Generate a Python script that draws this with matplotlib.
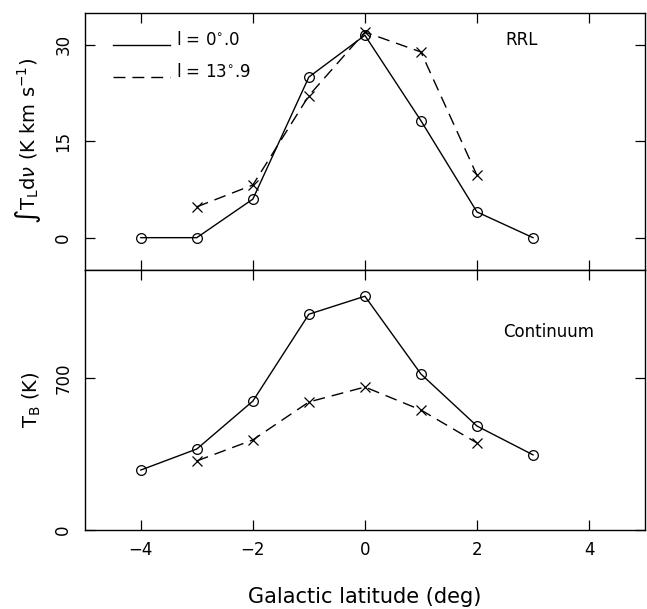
import matplotlib
matplotlib.use("Agg")
import matplotlib.pyplot as plt

plt.rcParams['font.family'] = ['DejaVu Sans']
plt.rcParams['mathtext.fontset'] = 'dejavusans'

lat_l0_rrl = [-4, -3, -2, -1, 0, 1, 2, 3]
rrl_l0 = [0, 0, 6, 25, 31.5, 18.2, 4, 0]
lat_l14_rrl = [-3, -2, -1, 0, 1, 2]
rrl_l14 = [4.8, 8.2, 22.1, 32, 28.9, 9.7]

lat_l0_cont = [-4, -3, -2, -1, 0, 1, 2, 3]
cont_l0 = [276, 373, 594, 995, 1078, 719, 479, 346]
lat_l14_cont = [-3, -2, -1, 0, 1, 2]
cont_l14 = [318, 415, 590, 659, 553, 401]

xticks = [-4, -2, 0, 2, 4]
legend_labels = [r'l = 0$^{\circ}$.0', r'l = 13$^{\circ}$.9']

DASH = (8.6, 5.0)

fig = plt.figure(figsize=(6.47, 6.09), dpi=100)
ax1 = fig.add_axes([0.131, 0.557, 0.866, 0.422])
ax2 = fig.add_axes([0.131, 0.130, 0.866, 0.427], sharex=ax1)

lw = 1.0
for ax in (ax1, ax2):
    for s in ax.spines.values():
        s.set_linewidth(1.0)
    ax.tick_params(direction='in', top=True, right=True, length=7, width=0.9,
                   labelsize=12)
    ax.tick_params(axis='y', pad=9)
    ax.set_xlim(-5, 5)
    ax.set_xticks(xticks)

ax1.plot(lat_l0_rrl, rrl_l0, '-', color='black', lw=lw, marker='o', ms=7,
         mfc='none', mew=0.9)
ax1.plot(lat_l14_rrl, rrl_l14, '--', color='black', lw=lw, marker='x', ms=7,
         mew=0.9, dashes=DASH)
ax1.set_ylim(-5, 35)
ax1.set_yticks([0, 15, 30])
ax1.tick_params(labelbottom=False)
for t in ax1.get_yticklabels():
    t.set_rotation(90)
    t.set_va('center')
ax1.set_ylabel(r'$\int$T$_{\rm L}$d$\nu$ (K km s$^{-1}$)', fontsize=14,
               labelpad=8)
ax1.text(0.779, 0.895, 'RRL', transform=ax1.transAxes, ha='center',
         va='center', fontsize=12)

# legend drawn by hand (line at text baseline)
ax1.plot([0.05, 0.152], [0.875, 0.875], '-', color='black', lw=lw,
         transform=ax1.transAxes)
ax1.plot([0.05, 0.152], [0.751, 0.751], '--', color='black', lw=lw,
         dashes=DASH, transform=ax1.transAxes)
ax1.text(0.1625, 0.895, legend_labels[0], transform=ax1.transAxes,
         ha='left', va='center', fontsize=12)
ax1.text(0.1625, 0.770, legend_labels[1], transform=ax1.transAxes,
         ha='left', va='center', fontsize=12)

ax2.plot(lat_l0_cont, cont_l0, '-', color='black', lw=lw, marker='o', ms=7,
         mfc='none', mew=0.9)
ax2.plot(lat_l14_cont, cont_l14, '--', color='black', lw=lw, marker='x', ms=7,
         mew=0.9, dashes=DASH)
ax2.set_ylim(0, 1200)
ax2.set_yticks([0, 700])
for t in ax2.get_yticklabels():
    t.set_rotation(90)
    t.set_va('center')
ax2.set_ylabel(r'T$_{\rm B}$ (K)', fontsize=14, labelpad=8)
ax2.text(0.827, 0.762, 'Continuum', transform=ax2.transAxes, ha='center',
         va='center', fontsize=12)
ax2.set_xlabel('Galactic latitude (deg)', fontsize=15, labelpad=20)
ax2.tick_params(axis='x', pad=8)

fig.savefig('out.png', dpi=100)
